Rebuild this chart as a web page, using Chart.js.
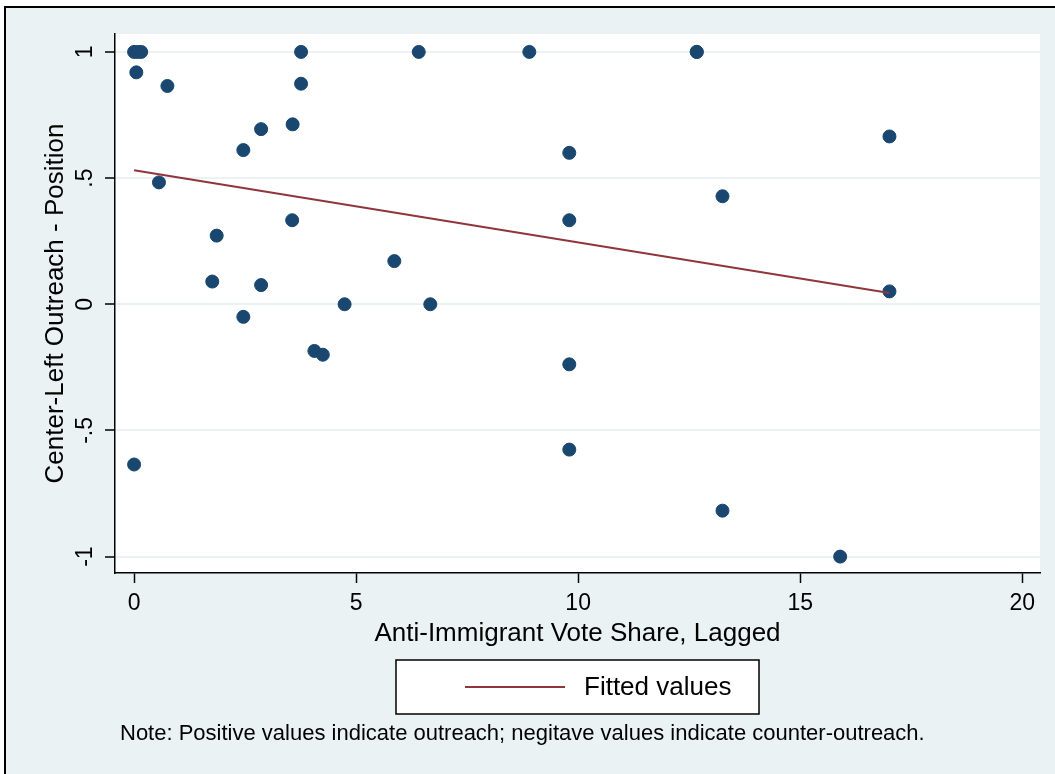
<!DOCTYPE html>
<html>
<head>
<meta charset="utf-8">
<script src="https://cdn.jsdelivr.net/npm/chart.js@4.4.1/dist/chart.umd.min.js"></script>
<style>
  body { margin: 0; background: #ffffff; overflow: hidden; }
  #frame {
    position: absolute; left: 4px; top: 6px; width: 1100px; height: 820px;
    border: 2px solid #000; background: #eaf2f3;
  }
  #chart { position: absolute; left: 0; top: 0; }
</style>
</head>
<body>
<div id="frame"></div>
<canvas id="chart" width="1055" height="774"></canvas>
<script>
// scatter points
const voteShare = [0, 0.08, 0.16, 0.05, 0.75, 3.76, 3.76, 6.41, 8.9, 12.67, 12.67,
  3.57, 2.86, 2.46, 9.8, 17.01, 0.56, 13.25, 3.56, 1.86, 9.8, 5.86, 1.76, 2.86,
  4.74, 6.67, 17.01, 2.46, 4.06, 4.25, 9.8, 9.8, 0, 13.25, 15.9];
const outreach = [1, 1, 1, 0.919, 0.865, 1, 0.874, 1, 1, 1, 1,
  0.713, 0.694, 0.611, 0.6, 0.665, 0.483, 0.428, 0.333, 0.272, 0.333, 0.171, 0.09, 0.076,
  0, 0, 0.051, -0.05, -0.185, -0.2, -0.238, -0.576, -0.635, -0.818, -1];

// fitted line end points
const fitX = [0, 17.01];
const fitY = [0.531, 0.045];

const xTicks = [0, 5, 10, 15, 20];
const yTicks = [-1, -0.5, 0, 0.5, 1];
const yTickLabels = ["-1", "-.5", "0", ".5", "1"];

const legendLabel = "Fitted values";
const noteText = "Note: Positive values indicate outreach; negitave values indicate counter-outreach.";

const navy = "#1a476f";
const maroon = "#90353b";
const fontName = "'Liberation Sans', Arial, Helvetica, sans-serif";

let points = voteShare.map((x, i) => ({ x: x, y: outreach[i] }));
let fitted = fitX.map((x, i) => ({ x: x, y: fitY[i] }));

//white plot region, rotated y labels, legend and note
const decor = {
    id: "decor",
    beforeDraw(chart) {
        const a = chart.chartArea;
        const ctx = chart.ctx;
        ctx.save();
        ctx.fillStyle = "#ffffff";
        ctx.fillRect(a.left, a.top, a.right - a.left, a.bottom - a.top);
        ctx.restore();
    },
    afterDraw(chart) {
        const ctx = chart.ctx;
        const ys = chart.scales.y;
        ctx.save();
        ctx.fillStyle = "#000";
        ctx.font = "23px " + fontName;
        ctx.textAlign = "center";
        ctx.textBaseline = "middle";
        yTicks.forEach((v, i) => {
            let py = ys.getPixelForValue(v);
            ctx.save();
            ctx.translate(86, py);
            ctx.rotate(-Math.PI / 2);
            ctx.fillText(yTickLabels[i], 0, 0);
            ctx.restore();
        });

        // legend box
        ctx.fillStyle = "#ffffff";
        ctx.fillRect(396, 660, 363, 54);
        ctx.strokeStyle = "#000";
        ctx.lineWidth = 1.5;
        ctx.strokeRect(396, 660, 363, 54);
        ctx.strokeStyle = maroon;
        ctx.lineWidth = 2;
        ctx.beginPath();
        ctx.moveTo(465, 687);
        ctx.lineTo(565, 687);
        ctx.stroke();
        ctx.fillStyle = "#000";
        ctx.font = "26px " + fontName;
        ctx.textAlign = "left";
        ctx.fillText(legendLabel, 584, 688);

        // note
        ctx.font = "22px " + fontName;
        ctx.fillText(noteText, 120, 734);
        ctx.restore();
    }
};

new Chart(document.getElementById("chart"), {
    type: "scatter",
    data: {
        datasets: [
            {
                type: "line",
                label: legendLabel,
                data: fitted,
                borderColor: maroon,
                borderWidth: 2,
                pointRadius: 0,
                fill: false,
                order: 1
            },
            {
                label: "points",
                data: points,
                backgroundColor: navy,
                borderColor: navy,
                borderWidth: 1,
                pointRadius: 6.5,
                order: 2
            }
        ]
    },
    options: {
        responsive: false,
        devicePixelRatio: 1,
        animation: false,
        layout: { padding: { left: 0, top: 34, right: 15, bottom: 116 } },
        plugins: { legend: { display: false }, tooltip: { enabled: false } },
        scales: {
            x: {
                type: "linear",
                min: -0.43,
                max: 20.4,
                afterBuildTicks: s => { s.ticks = xTicks.map(v => ({ value: v })); },
                afterFit: s => { s.height = 85; },
                grid: { drawOnChartArea: false, tickLength: 10, tickColor: "#000", tickWidth: 1.5 },
                border: { color: "#000", width: 1.5 },
                ticks: { color: "#000", padding: 7, font: { size: 23, family: fontName } },
                title: {
                    display: true,
                    text: "Anti-Immigrant Vote Share, Lagged",
                    color: "#000",
                    font: { size: 26, family: fontName },
                    padding: { top: 0, bottom: 9 }
                }
            },
            y: {
                type: "linear",
                min: -1.065,
                max: 1.071,
                afterBuildTicks: s => { s.ticks = yTicks.map(v => ({ value: v })); },
                afterFit: s => { s.width = 115; },
                grid: { color: "#eaf2f3", lineWidth: 2, tickLength: 10, tickColor: "#000", tickWidth: 1.5 },
                border: { color: "#000", width: 1.5 },
                ticks: { display: false },
                title: {
                    display: true,
                    text: "Center-Left Outreach - Position",
                    color: "#000",
                    font: { size: 26, family: fontName },
                    padding: { top: 40, bottom: 0 }
                }
            }
        }
    },
    plugins: [decor]
});
</script>
</body>
</html>
